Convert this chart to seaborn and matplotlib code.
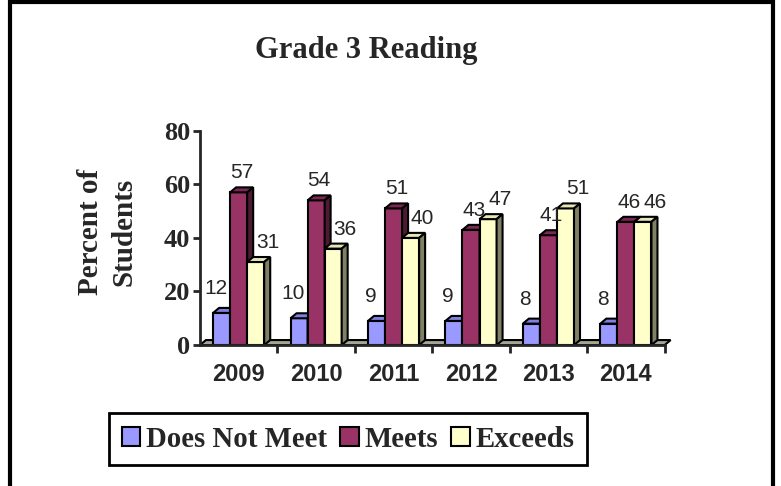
"""Grade 3 Reading results, drawn as an Excel-style 3D clustered bar chart."""
import matplotlib.pyplot as plt
import matplotlib.patches as mpatches
import numpy as np
import pandas as pd
import seaborn as sns

years = ["2009", "2010", "2011", "2012", "2013", "2014"]
levels = ["Does Not Meet", "Meets", "Exceeds"]
does_not_meet = [12, 10, 9, 9, 8, 8]
meets = [57, 54, 51, 43, 41, 46]
exceeds = [31, 36, 40, 47, 51, 46]
y_ticks = [0, 20, 40, 60, 80]

colors = ["#9999FF", "#993366", "#FFFFCC"]
top_colors = ["#8080E0", "#7A2952", "#E6E6B8"]
side_colors = ["#4D4D99", "#4D1A33", "#808066"]
label_dx = [-6, 3, 12]
label_dy = [19, 14, 14]
depth_px = (6, 5)

df = pd.DataFrame({
    "year": years * len(levels),
    "level": np.repeat(levels, len(years)),
    "pct": does_not_meet + meets + exceeds,
})

sns.set_style("white")
plt.rcParams["font.family"] = ["Liberation Serif", "DejaVu Serif"]

fig = plt.figure(figsize=(7.81, 4.86), dpi=100)
ax = fig.add_axes([0.256, 0.290, 0.595, 0.441])
sns.barplot(data=df, x="year", y="pct", hue="level", order=years, hue_order=levels,
            palette=colors, saturation=1, width=0.66, edgecolor="black", linewidth=1.5,
            legend=False, ax=ax)
ax.set_xlim(-0.5, len(years) - 0.5)
ax.set_ylim(0, 80)

to_data = ax.transData.inverted()


def shifted(x, y):
    px, py = ax.transData.transform((x, y))
    return tuple(to_data.transform((px + depth_px[0], py + depth_px[1])))


# floor of the 3D box
x0, x1 = ax.get_xlim()
floor = [(x0, 0), (x1, 0), shifted(x1, 0), shifted(x0, 0)]
ax.add_patch(mpatches.Polygon(floor, closed=True, facecolor="#A6A696", edgecolor="black",
                              linewidth=1.5, zorder=1.5, clip_on=False))

for i, container in enumerate(ax.containers):
    for bar, val in zip(container.patches, container.datavalues):
        z = 3 + i
        bar.set_zorder(z)
        bx, bw, h = bar.get_x(), bar.get_width(), bar.get_height()
        top = [(bx, h), (bx + bw, h), shifted(bx + bw, h), shifted(bx, h)]
        side = [(bx + bw, 0), (bx + bw, h), shifted(bx + bw, h), shifted(bx + bw, 0)]
        ax.add_patch(mpatches.Polygon(top, closed=True, facecolor=top_colors[i], edgecolor="black",
                                      linewidth=1.5, zorder=z + 0.1, clip_on=False))
        ax.add_patch(mpatches.Polygon(side, closed=True, facecolor=side_colors[i], edgecolor="black",
                                      linewidth=1.5, zorder=z + 0.1, clip_on=False))
        ax.annotate(f"{val:.0f}", (bx + bw / 2, h), xytext=(label_dx[i], label_dy[i]),
                    textcoords="offset pixels", ha="center", va="baseline", fontsize=15,
                    family="Liberation Sans", zorder=10)

sns.despine(ax=ax)
for side in ["left", "bottom"]:
    ax.spines[side].set_linewidth(2)
    ax.spines[side].set_zorder(8)

ax.set_yticks(y_ticks)
ax.set_yticklabels([str(t) for t in y_ticks], fontsize=19, fontweight="bold")
ax.tick_params(axis="y", direction="out", length=5, width=2, pad=2, left=True)
ax.set_xticks(range(len(years)))
ax.set_xticklabels(years, fontsize=17, fontweight="bold", family="Liberation Sans")
ax.set_xticks(np.arange(0.5, len(years)), minor=True)
ax.tick_params(axis="x", which="major", length=0, pad=13)
ax.tick_params(axis="x", which="minor", direction="out", length=6, width=2, bottom=True)
ax.set_xlabel("")
ax.set_ylabel("")

fig.text(107 / 781, 1 - 232 / 486, "Percent of\nStudents", rotation=90, ha="center", va="center",
         multialignment="center", fontsize=21, fontweight="bold", linespacing=1.3)
fig.text(366 / 781, 1 - 58 / 486, "Grade 3 Reading", ha="center", va="baseline",
         fontsize=22, fontweight="bold")

handles = [mpatches.Patch(facecolor=c, edgecolor="black", linewidth=1.5) for c in colors]
leg = fig.legend(handles, levels, loc="center", bbox_to_anchor=(348 / 781, 1 - 439 / 486), ncol=3,
                 fancybox=False, framealpha=1, edgecolor="black", handlelength=0.65, handleheight=0.65,
                 handletextpad=0.2, columnspacing=0.45, borderpad=0.45, borderaxespad=0,
                 prop={"family": "Liberation Serif", "weight": "bold", "size": 20.7})
leg.get_frame().set_linewidth(2)

fig.patches.append(mpatches.Rectangle((10 / 781, -0.05), 763 / 781, 1.05 - 2 / 486, transform=fig.transFigure,
                                      fill=False, edgecolor="black", linewidth=3, zorder=20))

plt.savefig("out.png", dpi=100)
